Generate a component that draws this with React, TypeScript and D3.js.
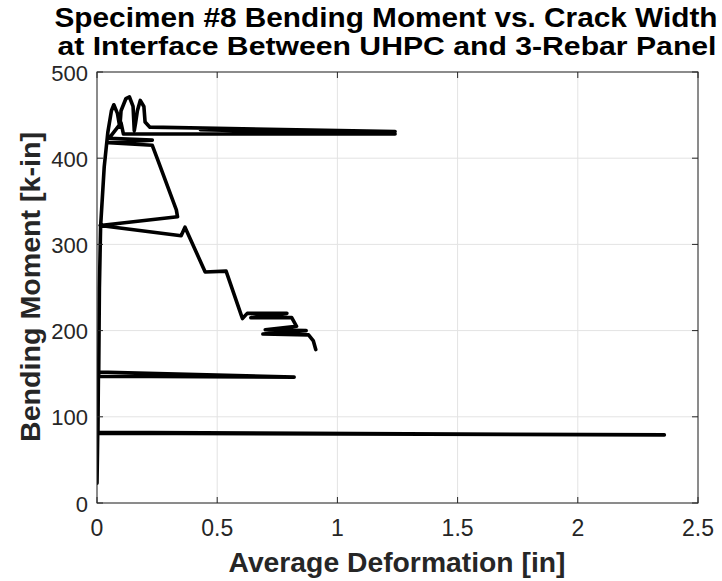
import React from "react";
import * as d3 from "d3";

const titleLines = [
  "Specimen #8 Bending Moment vs. Crack Width",
  "at Interface Between UHPC and 3-Rebar Panel",
];
const xLabel = "Average Deformation [in]";
const yLabel = "Bending Moment [k-in]";
const xTicks = [0, 0.5, 1, 1.5, 2, 2.5];
const xTickLabels = ["0", "0.5", "1", "1.5", "2", "2.5"];
const yTicks = [0, 100, 200, 300, 400, 500];
const yTickLabels = ["0", "100", "200", "300", "400", "500"];

// Average deformation [in] (trace order)
const deformation = [
  0.0, 0.002, 0.003, 2.36, 0.004, 0.005, 0.006, 0.82, 0.007, 0.01, 0.015,
  0.03, 0.045, 0.06, 0.07, 0.085, 0.095, 0.1, 0.12, 0.135, 0.15, 0.155,
  0.16, 0.168, 0.18, 0.195, 0.2, 0.22, 1.24, 0.43, 1.24, 0.11, 0.1, 0.05,
  0.23, 0.05, 0.23, 0.25, 0.33, 0.335, 0.013, 0.35, 0.366, 0.45, 0.537,
  0.6, 0.605, 0.625, 0.79, 0.64, 0.81, 0.83, 0.7, 0.87, 0.69, 0.88, 0.9,
  0.91,
];
// Bending moment [k-in]
const moment = [
  23, 60, 82, 79, 81, 120, 152, 146, 147, 250, 321, 390, 430, 455, 462,
  452, 436, 455, 469, 471, 460, 432, 440, 455, 467, 460, 442, 436, 431, 433,
  428, 428, 441, 423, 421, 418, 415, 400, 340, 332, 322, 310, 320, 268, 269,
  218, 214, 220, 220, 215, 215, 205, 201, 200, 196, 195, 188, 178,
];

export default function App() {
  const W = 722;
  const H = 581;
  const x = d3.scaleLinear().domain([0, 2.5]).range([97, 698]);
  const y = d3.scaleLinear().domain([0, 500]).range([503, 72]);
  const pts: [number, number][] = deformation.map((d, i) => [d, moment[i]]);
  const line = d3
    .line<[number, number]>()
    .x((d) => x(d[0]))
    .y((d) => y(d[1]));
  const font = "'Liberation Sans', Arial, Helvetica, sans-serif";
  const [x0, x1] = x.range();
  const [y0, y1] = y.range();
  const tickLen = 6;
  return (
    <svg
      width={W}
      height={H}
      style={{ position: "absolute", left: 0, top: 0, background: "#fff" }}
    >
      <rect x={0} y={0} width={W} height={H} fill="#fff" />
      {/* grid */}
      {xTicks.map((t) => (
        <line key={"gx" + t} x1={x(t)} x2={x(t)} y1={y1} y2={y0} stroke="#e3e3e3" strokeWidth={1} />
      ))}
      {yTicks.map((t) => (
        <line key={"gy" + t} x1={x0} x2={x1} y1={y(t)} y2={y(t)} stroke="#e3e3e3" strokeWidth={1} />
      ))}
      {/* data */}
      <defs>
        <clipPath id="clip">
          <rect x={x0} y={y1} width={x1 - x0} height={y0 - y1} />
        </clipPath>
      </defs>
      <path
        d={line(pts) || ""}
        fill="none"
        stroke="#000"
        strokeWidth={3.6}
        strokeLinejoin="round"
        strokeLinecap="round"
        clipPath="url(#clip)"
      />
      {/* axes box */}
      <rect x={x0} y={y1} width={x1 - x0} height={y0 - y1} fill="none" stroke="#262626" strokeWidth={1} />
      {xTicks.map((t) => (
        <g key={"tx" + t}>
          <line x1={x(t)} x2={x(t)} y1={y0} y2={y0 - tickLen} stroke="#262626" />
          <line x1={x(t)} x2={x(t)} y1={y1} y2={y1 + tickLen} stroke="#262626" />
        </g>
      ))}
      {yTicks.map((t) => (
        <g key={"ty" + t}>
          <line x1={x0} x2={x0 + tickLen} y1={y(t)} y2={y(t)} stroke="#262626" />
          <line x1={x1} x2={x1 - tickLen} y1={y(t)} y2={y(t)} stroke="#262626" />
        </g>
      ))}
      {/* tick labels */}
      {xTicks.map((t, i) => (
        <text key={"lx" + t} x={x(t)} y={536} textAnchor="middle" fontFamily={font} fontSize={23} fill="#262626">
          {xTickLabels[i]}
        </text>
      ))}
      {yTicks.map((t, i) => (
        <text key={"ly" + t} x={88} y={y(t) + 8.5} textAnchor="end" fontFamily={font} fontSize={22} fill="#262626">
          {yTickLabels[i]}
        </text>
      ))}
      {/* title */}
      <text x={386} y={27} textAnchor="middle" fontFamily={font} fontSize={27} fontWeight="bold" fill="#000" textLength={663} lengthAdjust="spacingAndGlyphs">
        {titleLines[0]}
      </text>
      <text x={387} y={55} textAnchor="middle" fontFamily={font} fontSize={26} fontWeight="bold" fill="#000" textLength={659} lengthAdjust="spacingAndGlyphs">
        {titleLines[1]}
      </text>
      {/* axis labels */}
      <text x={397} y={572} textAnchor="middle" fontFamily={font} fontSize={27} fontWeight="bold" fill="#262626" textLength={337} lengthAdjust="spacingAndGlyphs">
        {xLabel}
      </text>
      <text
        transform={`translate(40,287) rotate(-90)`}
        textAnchor="middle"
        fontFamily={font}
        fontSize={27}
        fontWeight="bold"
        fill="#262626"
        textLength={310}
        lengthAdjust="spacingAndGlyphs"
      >
        {yLabel}
      </text>
    </svg>
  );
}
